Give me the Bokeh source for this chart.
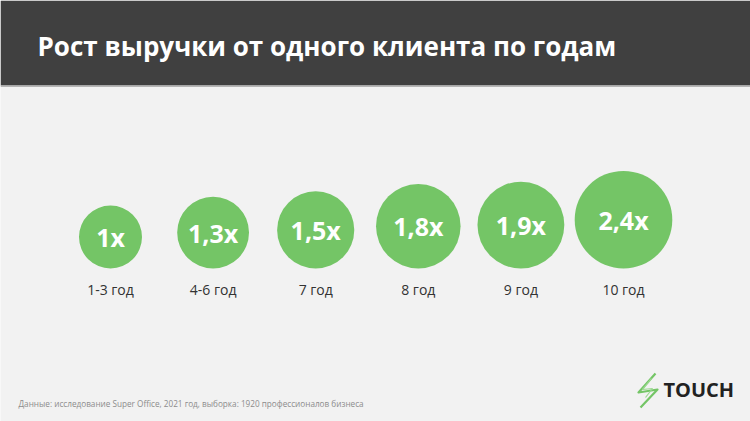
import numpy as np
from bokeh.plotting import figure
from bokeh.models import Range1d, Label, BoxAnnotation, ColumnDataSource
from bokeh.core.properties import value
from bokeh.embed import file_html
from bokeh.resources import INLINE

# ---- data ----
categories = ["1-3 год", "4-6 год", "7 год", "8 год", "9 год", "10 год"]
multipliers = [1.0, 1.3, 1.5, 1.8, 1.9, 2.4]
mult_labels = ["1x", "1,3x", "1,5x", "1,8x", "1,9x", "2,4x"]
title_text = "Рост выручки от одного клиента по годам"
source_text = "Данные: исследование Super Office, 2021 год, выборка: 1920 профессионалов бизнеса"
brand_text = "TOUCH"

W, H = 750, 421
FONT = "Open Sans"
GREEN = "#74c566"

# category index scale: first category at 110 px, step ~102.6 px
step = 102.6
x0 = 110.0
xr = Range1d(-x0 / step, (W - x0) / step)

p = figure(width=W, height=H, x_range=xr, y_range=Range1d(0, H),
           output_backend="svg", toolbar_location=None, min_border=0,
           background_fill_color="#f2f2f2", border_fill_color="#f2f2f2",
           outline_line_color=None)
p.extra_x_ranges = {"px": Range1d(0, W)}
p.xaxis.visible = False
p.yaxis.visible = False
p.grid.visible = False

# header band
p.add_layout(BoxAnnotation(top=H, bottom=H - 85, left=0, right=W,
                           left_units="screen", right_units="screen",
                           fill_color="#404040", fill_alpha=1, line_color=None))
p.add_layout(BoxAnnotation(top=H - 85, bottom=H - 86.5, left=0, right=W,
                           left_units="screen", right_units="screen",
                           fill_color="#b5b5b5", fill_alpha=1, line_color=None))
p.add_layout(Label(x=37, y=H - 45, x_units="screen", text=title_text,
                   text_font=FONT, text_font_style="bold",
                   text_font_size="26px", text_color="white",
                   text_baseline="middle", text_align="left"))

# circles: area proportional to the multiplier, bottoms aligned
idx = np.arange(len(categories))
r = 31.5 * np.sqrt(np.array(multipliers))
bottom_px = 268
cy = H - (bottom_px - r)
src = ColumnDataSource(dict(x=idx, y=cy, r=r, lab=mult_labels, cat=categories,
                            ly=np.full(len(idx), H - 289.0)))
p.circle(x="x", y="y", radius="r", radius_units="screen", source=src,
         fill_color=GREEN, line_color=None)
p.text(x="x", y="y", text="lab", source=src, text_font=value(FONT),
       text_font_style="bold", text_font_size="25px", text_color="white",
       text_align="center", text_baseline="middle")
p.text(x="x", y="ly", text="cat", source=src, text_font=value(FONT),
       text_font_size="14px", text_color="#333333",
       text_align="center", text_baseline="middle")

# footer
p.add_layout(Label(x=18, y=H - 403, x_units="screen", text=source_text,
                   text_font=FONT, text_font_size="8.2px",
                   text_color="#8c8c8c", text_baseline="middle"))

# logo
bolt_x = [655, 638, 657, 640]
bolt_y = [H - 373, H - 392, H - 389, H - 407]
p.line(x=bolt_x, y=bolt_y, x_range_name="px", line_color=GREEN, line_width=2.2,
       line_join="round")
bolt_x2 = [651, 642, 652, 645]
bolt_y2 = [H - 378, H - 389, H - 388, H - 397]
p.line(x=bolt_x2, y=bolt_y2, x_range_name="px", line_color="#9ad98f", line_width=1.2)
p.add_layout(Label(x=663, y=H - 389, x_units="screen", text=brand_text,
                   text_font=FONT, text_font_style="bold",
                   text_font_size="20px", text_color="#222222",
                   text_baseline="middle"))

open("out.html", "w").write(file_html(p, INLINE))
